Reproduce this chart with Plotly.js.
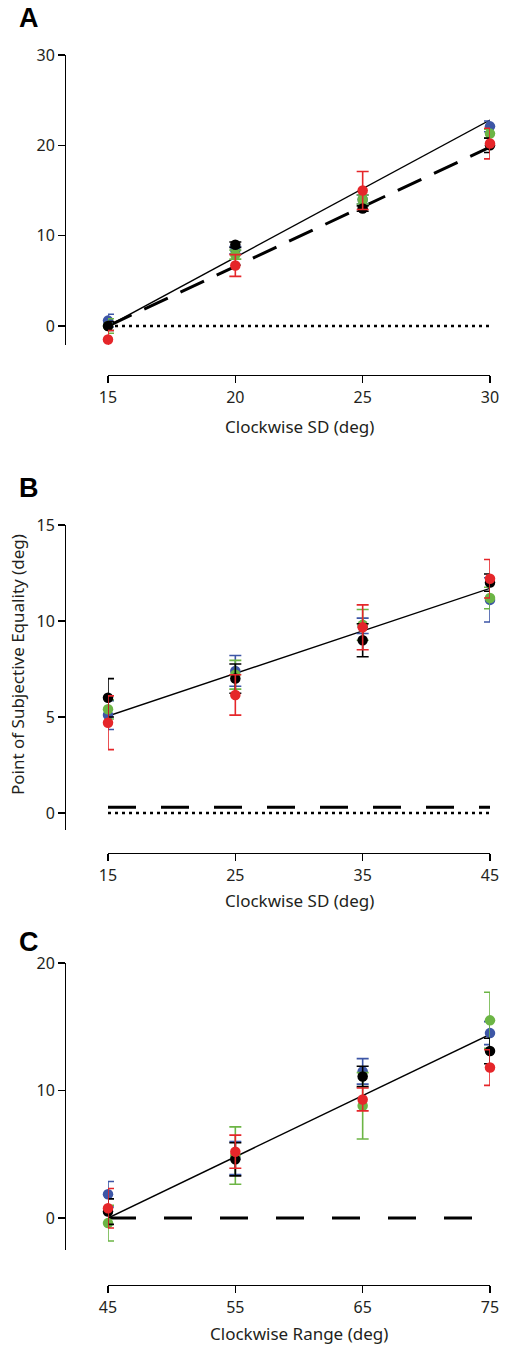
<!DOCTYPE html>
<html>
<head>
<meta charset="utf-8">
<script src="https://cdn.plot.ly/plotly-3.0.1.min.js"></script>
<style>html,body{margin:0;padding:0;background:#fff;}#chart{width:507px;height:1345px;}</style>
</head>
<body>
<div id="chart"></div>
<script>
// ---------- DATA ----------
const A_x = [15, 20, 25, 30];
const A_black = [0.0, 9.0, 13.0, 20.0];
const A_black_err = [0.5, 0.3, 0.3, 0.8];
const A_blue = [0.6, 8.4, 14.0, 22.1];
const A_blue_err = [0.7, 0.4, 0.5, 0.6];
const A_green = [0.0, 7.9, 14.0, 21.3];
const A_green_err = [0.8, 0.5, 0.5, 0.5];
const A_red = [-1.5, 6.7, 15.0, 20.2];
const A_red_err = [1.0, 1.2, 2.1, 1.7];
const A_fit_x = [15, 30];
const A_fit_solid = [0, 22.8];
const A_fit_dashed = [0, 19.8];
const A_zero = [0, 0];

const B_x = [15, 25, 35, 45];
const B_black = [6.0, 7.0, 9.0, 12.0];
const B_black_err = [1.0, 0.76, 0.86, 0.45];
const B_blue = [5.1, 7.4, 9.75, 11.1];
const B_blue_err = [0.75, 0.8, 0.4, 1.15];
const B_green = [5.4, 7.2, 9.8, 11.2];
const B_green_err = [0.5, 0.75, 0.8, 0.56];
const B_red = [4.7, 6.15, 9.67, 12.2];
const B_red_err = [1.4, 1.05, 1.17, 1.0];
const B_fit_x = [15, 45];
const B_fit_solid = [5.05, 11.7];
const B_fit_dashed = [0.3, 0.3];
const B_zero = [0, 0];

const C_x = [45, 55, 65, 75];
const C_black = [0.5, 4.6, 11.1, 13.1];
const C_black_err = [1.0, 1.3, 0.8, 1.0];
const C_blue = [1.86, 4.7, 11.5, 14.5];
const C_blue_err = [1.0, 1.3, 1.0, 0.9];
const C_green = [-0.4, 4.9, 8.8, 15.5];
const C_green_err = [1.4, 2.25, 2.6, 2.2];
const C_red = [0.76, 5.2, 9.3, 11.8];
const C_red_err = [1.55, 1.3, 0.9, 1.4];
const C_fit_x = [45, 75];
const C_fit_solid = [0, 14.4];
const C_zero = [0, 0];

const A_ticks = [15, 20, 25, 30];
const A_yticks = [0, 10, 20, 30];
const B_ticks = [15, 25, 35, 45];
const B_yticks = [0, 5, 10, 15];
const C_ticks = [45, 55, 65, 75];
const C_yticks = [0, 10, 20];

// ---------- STYLE ----------
const W = 507, H = 1345;
const COL = {black: '#000000', blue: '#3d56a6', green: '#6cb545', red: '#e5262a'};
const fx = p => p / W;
const fy = p => 1 - p / H;

function pts(x, y, e, color, xa, ya) {
  return {x: x, y: y, xaxis: xa, yaxis: ya, type: 'scatter', mode: 'markers',
    cliponaxis: false, showlegend: false,
    marker: {color: color, size: 10.5},
    error_y: {type: 'data', array: e, visible: true, color: color, thickness: 1.6, width: 6}};
}
function line(x, y, dash, width, xa, ya) {
  return {x: x, y: y, xaxis: xa, yaxis: ya, type: 'scatter', mode: 'lines',
    cliponaxis: false, showlegend: false, line: {color: '#000', width: width, dash: dash}};
}

const traces = [
  line(A_fit_x, A_zero, '3px,4px', 2.5, 'x', 'y'),
  line(A_fit_x, A_fit_dashed, '26px,14px', 3, 'x', 'y'),
  line(A_fit_x, A_fit_solid, 'solid', 1.4, 'x', 'y'),
  pts(A_x, A_blue, A_blue_err, COL.blue, 'x', 'y'),
  pts(A_x, A_green, A_green_err, COL.green, 'x', 'y'),
  pts(A_x, A_black, A_black_err, COL.black, 'x', 'y'),
  pts(A_x, A_red, A_red_err, COL.red, 'x', 'y'),

  line(B_fit_x, B_zero, '3px,4px', 2.5, 'x2', 'y2'),
  line(B_fit_x, B_fit_dashed, '28px,25px', 3, 'x2', 'y2'),
  line(B_fit_x, B_fit_solid, 'solid', 1.4, 'x2', 'y2'),
  pts(B_x, B_blue, B_blue_err, COL.blue, 'x2', 'y2'),
  pts(B_x, B_green, B_green_err, COL.green, 'x2', 'y2'),
  pts(B_x, B_black, B_black_err, COL.black, 'x2', 'y2'),
  pts(B_x, B_red, B_red_err, COL.red, 'x2', 'y2'),

  line(C_fit_x, C_zero, '28px,28px', 3, 'x3', 'y3'),
  line(C_fit_x, C_fit_solid, 'solid', 1.4, 'x3', 'y3'),
  pts(C_x, C_blue, C_blue_err, COL.blue, 'x3', 'y3'),
  pts(C_x, C_green, C_green_err, COL.green, 'x3', 'y3'),
  pts(C_x, C_black, C_black_err, COL.black, 'x3', 'y3'),
  pts(C_x, C_red, C_red_err, COL.red, 'x3', 'y3'),
];

const tickFont = {family: 'Noto Sans, Arial, sans-serif', size: 16, color: '#231f20'};
function xax(range, ticks, yPos) {
  return {domain: [fx(108), fx(490)], range: range, anchor: 'free', position: fy(yPos),
    tickvals: ticks, ticktext: ticks.map(String), showline: true, linecolor: '#000', linewidth: 1.3,
    ticks: 'outside', ticklen: 7, tickwidth: 1.3, tickcolor: '#000', showgrid: false, zeroline: false,
    tickfont: tickFont, automargin: false, fixedrange: true};
}
function yax(range, ticks, top, bottom) {
  return {domain: [fy(bottom), fy(top)], range: range, anchor: 'free', position: fx(65),
    tickvals: ticks, ticktext: ticks.map(String), showline: true, linecolor: '#000', linewidth: 1.3,
    ticks: 'outside', ticklen: 7, tickwidth: 1.3, tickcolor: '#000', showgrid: false, zeroline: false,
    tickfont: tickFont, automargin: false, fixedrange: true};
}

const titleFont = {family: 'Noto Sans, Arial, sans-serif', size: 17, color: '#231f20'};
const letterFont = {family: 'Liberation Sans, Arial, sans-serif', size: 27, color: '#000'};
function ann(text, xp, yp, font, extra) {
  return Object.assign({text: text, xref: 'paper', yref: 'paper', x: fx(xp), y: fy(yp),
    showarrow: false, font: font, xanchor: 'center', yanchor: 'middle'}, extra || {});
}

const layout = {
  width: W, height: H, margin: {l: 0, r: 0, t: 0, b: 0},
  paper_bgcolor: '#fff', plot_bgcolor: 'rgba(0,0,0,0)', showlegend: false,
  xaxis: xax([15, 30], A_ticks, 375),
  yaxis: yax([-2.1, 30], A_yticks, 55, 345),
  xaxis2: xax([15, 45], B_ticks, 853),
  yaxis2: yax([-0.885, 15], B_yticks, 525, 830),
  xaxis3: xax([45, 75], C_ticks, 1285),
  yaxis3: yax([-2.51, 20], C_yticks, 963, 1250),
  annotations: [
    ann('<b>A</b>', 29, 18, letterFont),
    ann('<b>B</b>', 29, 488, letterFont),
    ann('<b>C</b>', 29, 942, letterFont),
    ann('Clockwise SD (deg)', 299, 426, titleFont),
    ann('Clockwise SD (deg)', 299, 900, titleFont),
    ann('Clockwise Range (deg)', 299, 1333, titleFont),
    ann('Point of Subjective Equality (deg)', 18, 665, titleFont, {textangle: -90}),
  ]
};

Plotly.newPlot('chart', traces, layout, {staticPlot: true, displayModeBar: false});
</script>
</body>
</html>
